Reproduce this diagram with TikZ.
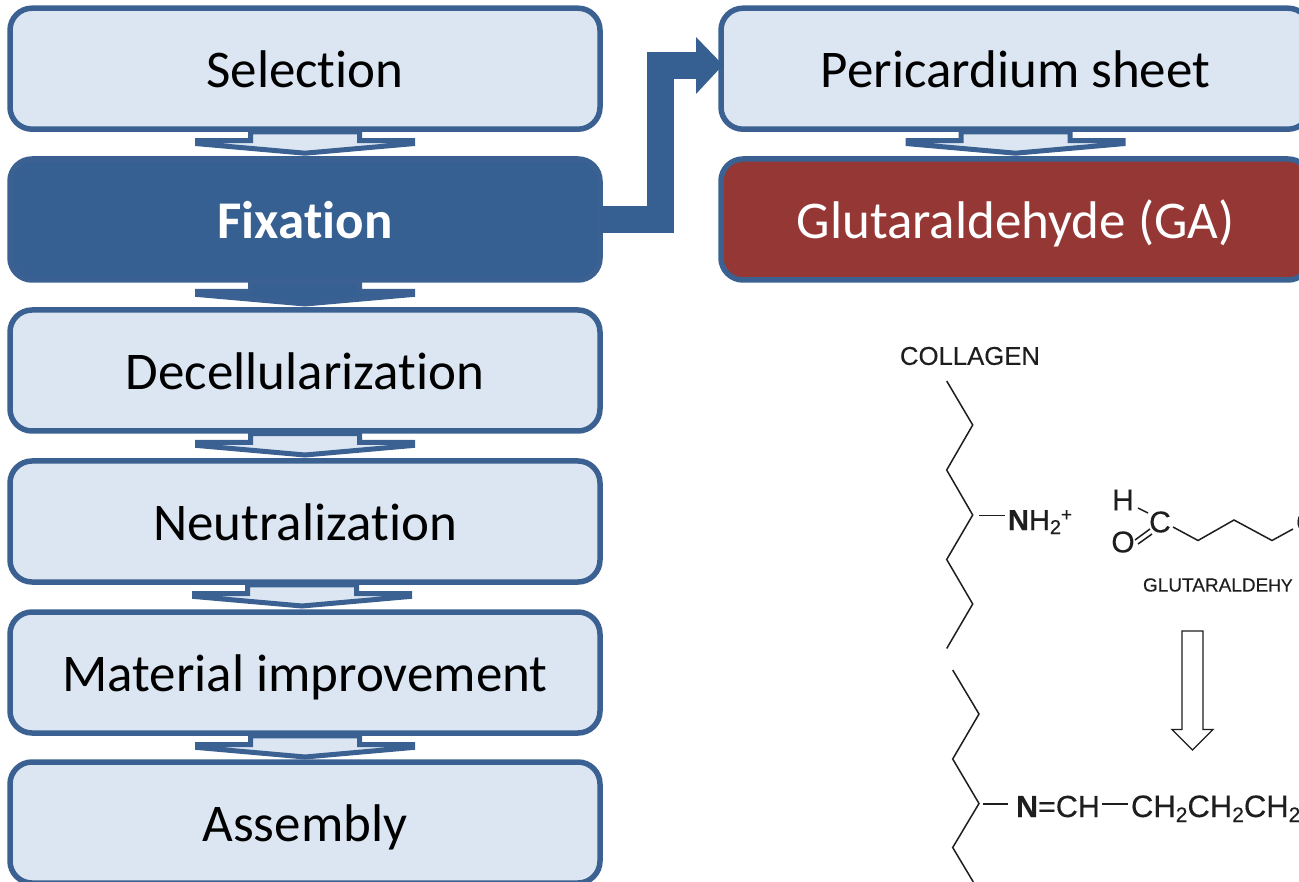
\documentclass[tikz,border=0pt]{standalone}
\usepackage{fontspec}
\setmainfont[Ligatures=NoCommon]{Carlito}
\newfontfamily\chemfont[FakeBold=0.25]{Liberation Sans}
\usetikzlibrary{calc}
\definecolor{bluebd}{HTML}{3A6191}
\definecolor{bluefill}{HTML}{DCE6F2}
\definecolor{bluedark}{HTML}{376092}
\definecolor{redfill}{HTML}{953735}
\definecolor{chemink}{HTML}{1E1E1E}
\tikzset{
  box/.style={draw=bluebd,line width=5.5pt,rounded corners=22pt,fill=bluefill,inner sep=0pt,outer sep=0pt,
    minimum height=121pt,text height=44pt,text depth=6pt,font=\fontsize{53}{60}\selectfont,text=black},
  lbox/.style={box,minimum width=590pt},
  rbox/.style={box,minimum width=589pt},
  darkbox/.style={lbox,fill=bluedark,text=white,font=\fontsize{53}{60}\selectfont\bfseries},
  redbox/.style={rbox,fill=redfill,text=white},
  blockarrow/.style={draw=bluebd,line width=5pt,miter limit=10,line join=miter},
  elbowline/.style={draw=bluedark,line width=27pt,line join=miter},
  elbowhead/.style={fill=bluedark,draw=none},
  bond/.style={draw=chemink,line width=1.5pt,line join=miter},
  chem/.style={inner sep=0pt,outer sep=0pt,text=chemink},
  whitearrow/.style={draw=chemink,line width=1.3pt,fill=white},
}
\newcommand{\flowarrow}[3]{%
  \begin{scope}[shift={($(#1.south)+(#2,0)$)}]
    \path[blockarrow,fill=#3] (-54.5,2.75) -- (-54.5,11.5) -- (-107.5,11.5) -- (-107.5,14.5) -- (0,24) -- (107.5,14.5) -- (107.5,11.5) -- (54.5,11.5) -- (54.5,2.75) -- cycle;
  \end{scope}}
\begin{document}
\begin{tikzpicture}[x=1pt,y=-1pt]
\useasboundingbox (0,0) rectangle (1299,882);
\clip (0,0) rectangle (1299,882);
\fill[white] (0,0) rectangle (1299,882);
% left column
\node[lbox] (sel) at (305,68.7) {Selection};
\node[darkbox] (fix) at (305,219.5) {Fixation};
\node[lbox] (dec) at (305,370.5) {Decellularization};
\node[lbox] (neu) at (305,521.5) {Neutralization};
\node[lbox] (mat) at (305,672.5) {Material improvement};
\node[lbox] (ass) at (305,822.5) {Assembly};
% right column
\node[rbox] (per) at (1015.5,68.7) {Pericardium sheet};
\node[redbox] (ga) at (1015.5,219.5) {Glutaraldehyde (GA)};
% block arrows
\flowarrow{sel}{0}{bluefill}
\flowarrow{fix}{0}{bluedark}
\flowarrow{dec}{0}{bluefill}
\flowarrow{neu}{-3}{bluefill}
\flowarrow{mat}{0}{bluefill}
\flowarrow{per}{0}{bluefill}
% elbow arrow
\draw[elbowline] (fix.east) -- ($(fix.east)+(60.5,0)$) |- ($(per.west)+(-24,-3.5)$);
\fill[elbowhead] ($(per.west)+(-25,-31.7)$) -- ($(per.west)+(2,-3.7)$) -- ($(per.west)+(-25,25.3)$) -- cycle;
% chemistry: collagen
\node[chem,anchor=west,font=\chemfont\fontsize{25.7}{28}\selectfont] (collagen) at (900,356) {COLLAGEN};
\draw[bond] (946.7,381) -- (972.7,425) -- (946.7,470) -- (972.7,515) -- (946.7,559.5) -- (972.7,604) -- (946.7,648.5);
\draw[bond] (979,515.5) -- (1005,515.5);
\node[chem,anchor=base west,font=\chemfont\fontsize{29}{30}\selectfont] (nh) at (1008,530) {\textbf{N}H\raisebox{-4pt}{\fontsize{20}{20}\selectfont 2}\raisebox{9pt}{\fontsize{19}{16}\selectfont +}};
% chemistry: glutaraldehyde
\node[chem,font=\chemfont\fontsize{30}{30}\selectfont] (hh) at (1123,500) {H};
\node[chem,font=\chemfont\fontsize{30}{30}\selectfont] (oo) at (1123,542) {O};
\node[chem,font=\chemfont\fontsize{30}{30}\selectfont] (cc) at (1160,522) {C};
\draw[bond] (1138,508) -- (1148,513);
\draw[bond] (1135,540) -- (1150,529);
\draw[bond] (1138,544) -- (1152,534);
\draw[bond] (1173,527) -- (1198,540.5) -- (1234,520) -- (1272,540.5) -- (1293,529);
\node[chem,anchor=west,font=\chemfont\fontsize{30}{30}\selectfont] (cend) at (1296,522) {C};
\node[chem,anchor=west,font=\chemfont\fontsize{19}{22}\selectfont] (glu) at (1143,585) {GLUTARALDE{\fontsize{17.5}{22}\selectfont HY}};
% reaction arrow
\path[whitearrow] (1182,631) -- (1203,631) -- (1203,729.5) -- (1213,729.5) -- (1192.5,750) -- (1172,729.5) -- (1182,729.5) -- cycle;
% chemistry: product
\draw[bond] (952.7,670) -- (979,714) -- (952.7,759) -- (979,803.5) -- (952.7,847.5) -- (973.3,882);
\draw[bond] (983,804) -- (1008,804);
\node[chem,anchor=base west,font=\chemfont\fontsize{30.5}{32}\selectfont] (imine) at (1016,817) {\textbf{N}=CH};
\draw[bond] (1102,804) -- (1128,804);
\node[chem,anchor=base west,font=\chemfont\fontsize{31}{32}\selectfont] (chain) at (1131,817) {CH\raisebox{-5pt}{\fontsize{21}{22}\selectfont 2}CH\raisebox{-5pt}{\fontsize{21}{22}\selectfont 2}CH\raisebox{-5pt}{\fontsize{21}{22}\selectfont 2}};
\end{tikzpicture}
\end{document}
